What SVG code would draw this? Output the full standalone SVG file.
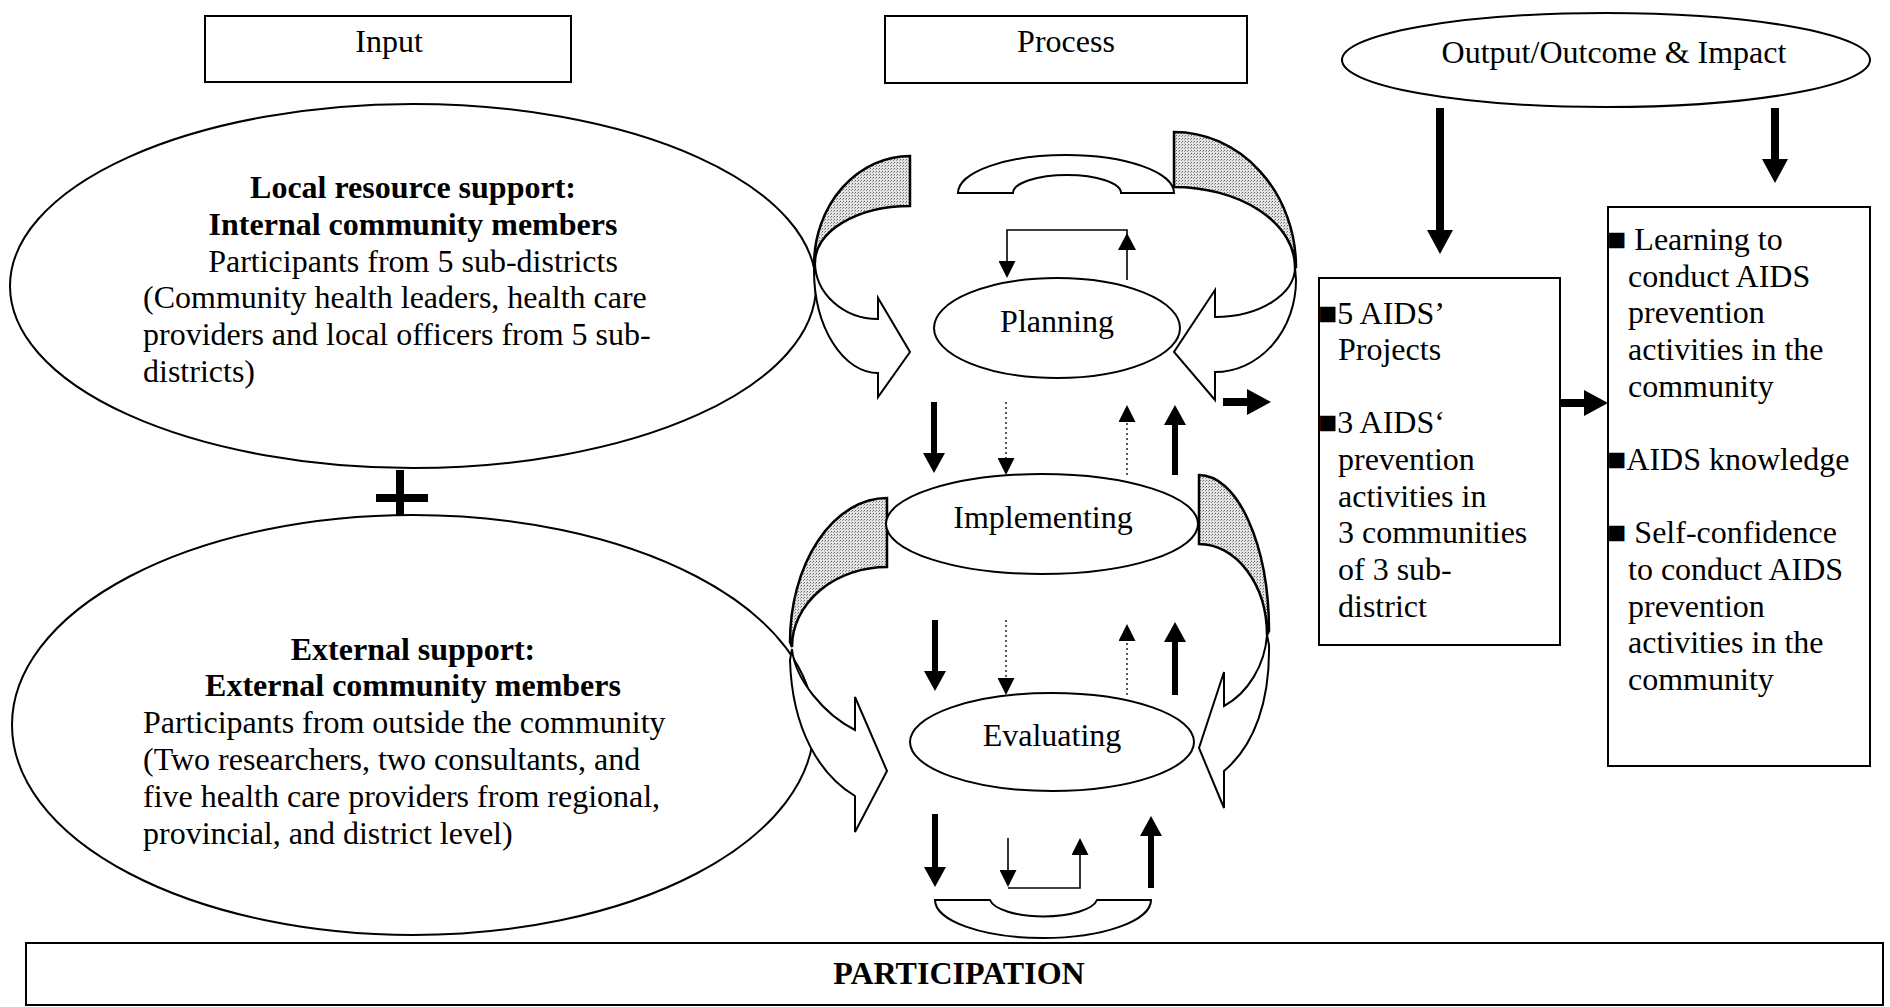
<svg xmlns="http://www.w3.org/2000/svg" width="1890" height="1007" viewBox="0 0 1890 1007">
<style>
.ln{fill:none;stroke:#000;stroke-width:2}
.wf{fill:#fff;stroke:#000;stroke-width:2}
.gf{fill:url(#stip);stroke:#000;stroke-width:2.5}
.t{font-family:"Liberation Serif","Times New Roman",serif;font-size:32px;fill:#000}
.b{font-weight:bold}
.c{text-anchor:middle}
.thick{fill:none;stroke:#000;stroke-width:6}
.heavy{fill:none;stroke:#000;stroke-width:8}
.thin{fill:none;stroke:#000;stroke-width:1.6}
.dot{fill:none;stroke:#000;stroke-width:1.3;stroke-dasharray:2 3}
</style>
<defs>
<pattern id="stip" width="3" height="3" patternUnits="userSpaceOnUse">
<rect width="3" height="3" fill="#e4e4e4"/><rect width="1" height="1" fill="#666"/><rect x="2" y="1" width="1" height="1" fill="#999"/>
</pattern>
<marker id="hThick" markerUnits="userSpaceOnUse" markerWidth="22" markerHeight="22" viewBox="0 0 22 22" refX="0" refY="11" orient="auto"><path d="M0,0 L20,11 L0,22 z" fill="#000"/></marker>
<marker id="hThin" markerUnits="userSpaceOnUse" markerWidth="17" markerHeight="17" viewBox="0 0 17 17" refX="0" refY="8.5" orient="auto"><path d="M0,0 L17,8.5 L0,17 z" fill="#000"/></marker>
<marker id="hBig" markerUnits="userSpaceOnUse" markerWidth="24" markerHeight="26" viewBox="0 0 24 26" refX="0" refY="13" orient="auto"><path d="M0,0 L24,13 L0,26 z" fill="#000"/></marker>
</defs>
<rect width="1890" height="1007" fill="#fff"/>

<g id="input-header">
<rect class="ln" x="205" y="16" width="366" height="66"/>
<text class="t c" x="389" y="52">Input</text>
</g>
<g id="process-header">
<rect class="ln" x="885" y="16" width="362" height="67"/>
<text class="t c" x="1066" y="52">Process</text>
</g>
<g id="output-header">
<ellipse class="ln" cx="1606" cy="60" rx="264" ry="47"/>
<text class="t c" x="1614" y="63">Output/Outcome &amp; Impact</text>
</g>

<g id="local-resource">
<ellipse class="wf" cx="413" cy="286" rx="403" ry="182"/>
<text class="t b c" x="413" y="198">Local resource support:</text>
<text class="t b c" x="413" y="235">Internal community members</text>
<text class="t c" x="413" y="272">Participants from 5 sub-districts</text>
<text class="t" x="143" y="308">(Community health leaders, health care</text>
<text class="t" x="143" y="345">providers and local officers from 5 sub-</text>
<text class="t" x="143" y="382">districts)</text>
</g>
<g id="plus">
<rect x="396" y="470" width="8" height="46" fill="#000"/>
<rect x="376" y="494" width="52" height="8" fill="#000"/>
</g>
<g id="external-support">
<ellipse class="wf" cx="413" cy="725" rx="401" ry="210"/>
<text class="t b c" x="413" y="660">External support:</text>
<text class="t b c" x="413" y="696">External community members</text>
<text class="t" x="143" y="733">Participants from outside the community</text>
<text class="t" x="143" y="770">(Two researchers, two consultants, and</text>
<text class="t" x="143" y="807">five health care providers from regional,</text>
<text class="t" x="143" y="844">provincial, and district level)</text>
</g>

<g id="cycle-arrows">
<path class="gf" d="M910,156 A96,109 0 0 0 814,265 L815,262 A95,56 0 0 1 910,206 Z"/>
<path class="wf" d="M815,262 A63,57 0 0 0 878,319 L878,298 L910,352 L878,397 L878,373 A64,103 0 0 1 814,270 Z"/>
<path class="gf" d="M1174,132 A122,135 0 0 1 1296,267 L1295,267 A121,80 0 0 0 1174,187 Z"/>
<path class="wf" d="M1295,267 A80,50 0 0 1 1215,317 L1215,290 L1174,352 L1215,400 L1215,372 A81,92 0 0 0 1296,280 Z"/>
<path class="gf" d="M887,498 A97,144 0 0 0 790,642 L792,647 A95,80 0 0 1 887,567 Z"/>
<path class="wf" d="M792,649 C795,680 825,715 855,730 L855,697 L887,771 L855,832 L855,796 C820,775 792,730 790,660 Z"/>
<path class="gf" d="M1199,475 A70,156 0 0 1 1269,631 L1267,635 A68,91 0 0 0 1199,544 Z"/>
<path class="wf" d="M1267,635 C1265,665 1248,693 1224,706 L1224,672 L1199,748 L1224,808 L1224,771 C1255,745 1270,700 1269,645 Z"/>
<path class="wf" d="M958,193 A108,38 0 0 1 1174,193 L1121,193 A54,18 0 0 0 1013,193 Z"/>
<path class="wf" d="M935,900 A108,38 0 0 0 1151,900 L1097,900 A54,19 0 0 1 990,900 Z"/>
</g>

<g id="planning">
<ellipse class="wf" cx="1057" cy="328" rx="123" ry="50"/>
<text class="t c" x="1057" y="332">Planning</text>
</g>
<g id="implementing">
<ellipse class="wf" cx="1042" cy="524" rx="156" ry="50"/>
<text class="t c" x="1043" y="528">Implementing</text>
</g>
<g id="evaluating">
<ellipse class="wf" cx="1052" cy="742" rx="142" ry="49"/>
<text class="t c" x="1052" y="746">Evaluating</text>
</g>

<g id="output-projects">
<rect class="ln" x="1319" y="278" width="241" height="367"/>
<text class="t" x="1318" y="324">■5 AIDS’</text>
<text class="t" x="1338" y="360">Projects</text>
<text class="t" x="1318" y="433">■3 AIDS‘</text>
<text class="t" x="1338" y="470">prevention</text>
<text class="t" x="1338" y="507">activities in</text>
<text class="t" x="1338" y="543">3 communities</text>
<text class="t" x="1338" y="580">of 3 sub-</text>
<text class="t" x="1338" y="617">district</text>
</g>
<g id="outcome-impact">
<rect class="ln" x="1608" y="207" width="262" height="559"/>
<text class="t" x="1607" y="250">■ Learning to</text>
<text class="t" x="1628" y="287">conduct AIDS</text>
<text class="t" x="1628" y="323">prevention</text>
<text class="t" x="1628" y="360">activities in the</text>
<text class="t" x="1628" y="397">community</text>
<text class="t" x="1607" y="470">■AIDS knowledge</text>
<text class="t" x="1607" y="543">■ Self-confidence</text>
<text class="t" x="1628" y="580">to conduct AIDS</text>
<text class="t" x="1628" y="617">prevention</text>
<text class="t" x="1628" y="653">activities in the</text>
<text class="t" x="1628" y="690">community</text>
</g>

<g id="participation">
<rect class="ln" x="26" y="943" width="1857" height="62"/>
<text class="t b c" x="959" y="984">PARTICIPATION</text>
</g>

<g id="connectors">
<path class="thick" d="M934,402 V453" marker-end="url(#hThick)"/>
<path class="thick" d="M935,620 V671" marker-end="url(#hThick)"/>
<path class="thick" d="M935,814 V867" marker-end="url(#hThick)"/>
<path class="thick" d="M1175,475 V425" marker-end="url(#hThick)"/>
<path class="thick" d="M1175,695 V642" marker-end="url(#hThick)"/>
<path class="thick" d="M1151,888 V836" marker-end="url(#hThick)"/>
<path class="dot" d="M1006,402 V458" marker-end="url(#hThin)"/>
<path class="dot" d="M1127,475 V422" marker-end="url(#hThin)"/>
<path class="dot" d="M1006,620 V678" marker-end="url(#hThin)"/>
<path class="dot" d="M1127,695 V641" marker-end="url(#hThin)"/>
<path class="thin" d="M1127,280 V230 H1007 V261" marker-end="url(#hThin)"/>
<path d="M1118,250 L1127,233 L1136,250 Z" fill="#000"/>
<path class="thin" d="M1008,838 V870" marker-end="url(#hThin)"/>
<path class="thin" d="M1008,888 H1080 V855" marker-end="url(#hThin)"/>
<path class="heavy" d="M1440,108 V230" marker-end="url(#hBig)"/>
<path class="heavy" d="M1775,108 V159" marker-end="url(#hBig)"/>
<path class="heavy" d="M1560,403 H1584" marker-end="url(#hBig)"/>
<path class="heavy" d="M1223,402 H1247" marker-end="url(#hBig)"/>
</g>
</svg>
